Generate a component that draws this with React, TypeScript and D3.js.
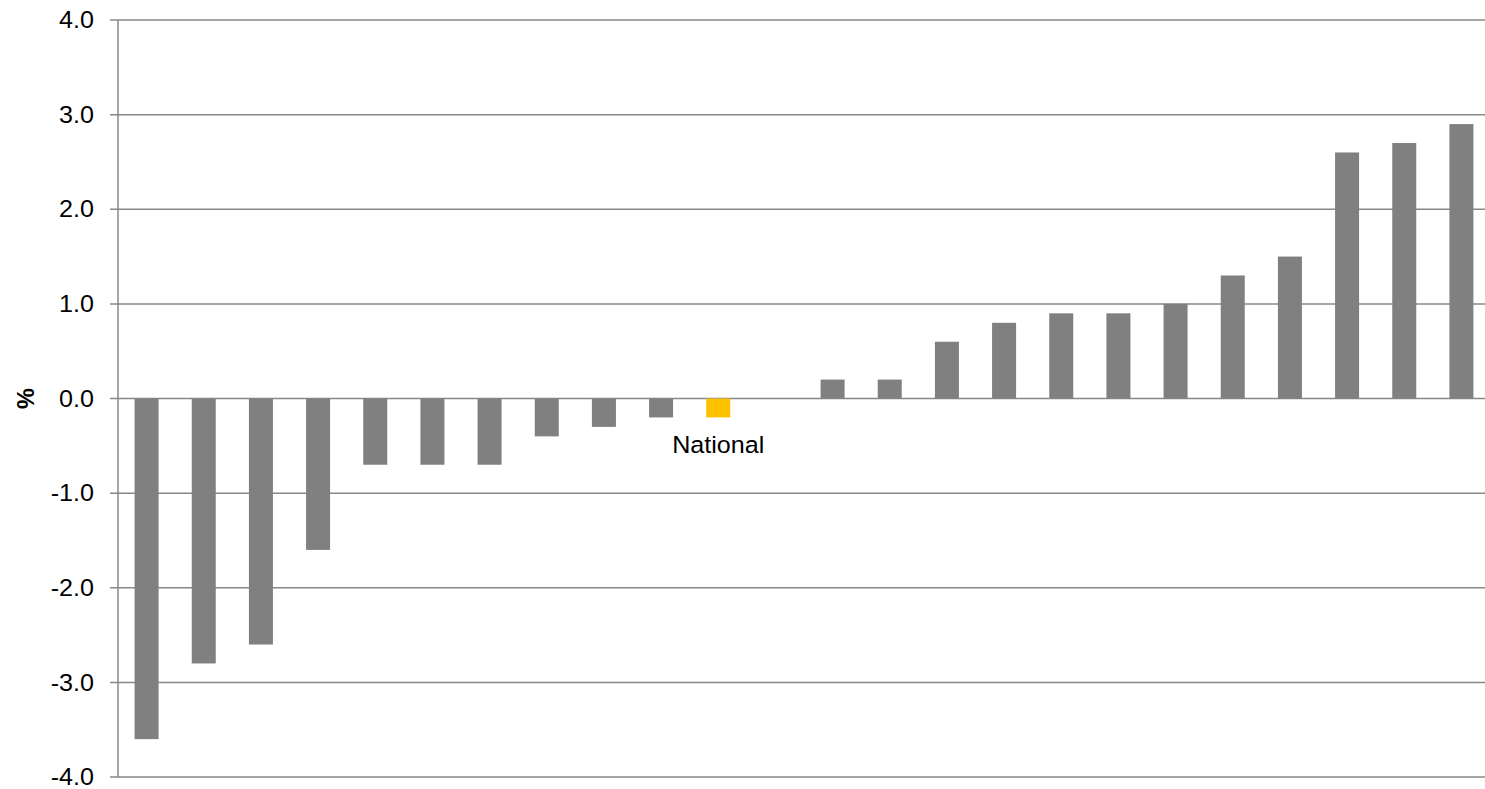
import React from "react";
import * as d3 from "d3";

const categories: string[] = [
  "A1", "A2", "A3", "A4", "A5", "A6", "A7", "A8", "A9", "A10",
  "National", "A12", "A13", "A14", "A15", "A16", "A17", "A18", "A19", "A20",
  "A21", "A22", "A23", "A24",
];
const values: (number | null)[] = [
  -3.6, -2.8, -2.6, -1.6, -0.7, -0.7, -0.7, -0.4, -0.3, -0.2,
  -0.2, null, 0.2, 0.2, 0.6, 0.8, 0.9, 0.9, 1.0, 1.3,
  1.5, 2.6, 2.7, 2.9,
];
const yTicks: number[] = [-4, -3, -2, -1, 0, 1, 2, 3, 4];
const highlight = "National";
const yAxisTitle = "%";

export default function App() {
  const W = 1485, H = 789;
  const left = 118, right = 1490, top = 20, bottom = 777;
  const x = d3.scaleBand<string>().domain(categories).range([left, right]).paddingInner(0.58).paddingOuter(0.29);
  const y = d3.scaleLinear().domain([-4, 4]).range([bottom, top]);
  const font = "Liberation Sans, Arial, sans-serif";
  const nat = categories.indexOf(highlight);
  const sx = 1.07;
  return (
    <svg width={W} height={H} style={{ position: "absolute", left: 0, top: 0, background: "#fff" }}>
      {yTicks.map((t) => (
        <g key={t}>
          <line x1={left - 8} x2={W} y1={y(t)} y2={y(t)} stroke="#888" strokeWidth={1.5} />
          <text transform={`translate(94, ${y(t)}) scale(${sx},1)`} dy="0.35em" textAnchor="end" fontFamily={font} fontSize={23.5} fill="#000">
            {t.toFixed(1)}
          </text>
        </g>
      ))}
      <line x1={left} x2={left} y1={top} y2={bottom} stroke="#888" strokeWidth={1.5} />
      {categories.map((c, i) => {
        const v = values[i];
        if (v == null) return null;
        const y0 = y(0), y1 = y(v);
        return (
          <rect key={c} x={x(c)} width={x.bandwidth()} y={Math.min(y0, y1)} height={Math.abs(y1 - y0)}
            fill={c === highlight ? "#FFC000" : "#808080"} />
        );
      })}
      {nat >= 0 && (
        <text transform={`translate(${(x(highlight) as number) + x.bandwidth() / 2}, 453) scale(${sx},1)`} textAnchor="middle" fontFamily={font} fontSize={23.5} fill="#000">
          {highlight}
        </text>
      )}
      <text transform={`translate(34, ${y(0)}) rotate(-90)`} textAnchor="middle" fontFamily={font} fontSize={23.5} fontWeight="bold" fill="#000">
        {yAxisTitle}
      </text>
    </svg>
  );
}
